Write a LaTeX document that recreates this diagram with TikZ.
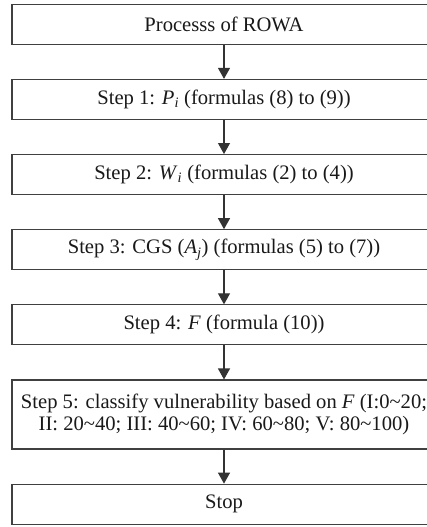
\documentclass[tikz,border=0pt]{standalone}
\usepackage{fontspec}
\setmainfont{Liberation Serif}
\usepackage{tikz}
\usetikzlibrary{arrows.meta, positioning}
\newcommand{\tld}{\textasciitilde}
\newcommand{\sym}[2]{\textit{#1}\textsubscript{\textit{#2}}}

\begin{document}
\begin{tikzpicture}[
    x=1pt, y=1pt,
    node distance=34pt,
    box/.style={
        rectangle,
        draw=black!75,
        line width=1.15pt,
        align=center,
        minimum width=424pt,
        minimum height=40pt,
        inner sep=2pt,
        font=\fontsize{20.6}{22}\selectfont,
        text=black!90
    },
    arrow/.style={-{Triangle[length=11pt, width=12pt]}, line width=1.15pt, draw=black!80}
]
\useasboundingbox (0,0) rectangle (427,-527);

\node[box] (rowa) at (224,-24.3) {Processs of ROWA};
\node[box, below=of rowa] (pi) {Step 1: \sym{P}{i} (formulas (8) to (9))};
\node[box, below=of pi] (wi) {Step 2: \sym{W}{i} (formulas (2) to (4))};
\node[box, below=of wi] (cgs) {Step 3: CGS (\sym{A}{j}) (formulas (5) to (7))};
\node[box, below=of cgs] (f) {Step 4: \textit{F} (formula (10))};
\node[box, below=of f, minimum height=69pt] (classify) {Step 5: classify vulnerability based on \textit{F} (I:0\tld20;\\II: 20\tld40; III: 40\tld60; IV: 60\tld80; V: 80\tld100)};
\node[box, below=of classify] (stop) {Stop};

\draw[arrow] (rowa) -- (pi);
\draw[arrow] (pi) -- (wi);
\draw[arrow] (wi) -- (cgs);
\draw[arrow] (cgs) -- (f);
\draw[arrow] (f) -- (classify);
\draw[arrow] (classify) -- (stop);

\end{tikzpicture}
\end{document}
